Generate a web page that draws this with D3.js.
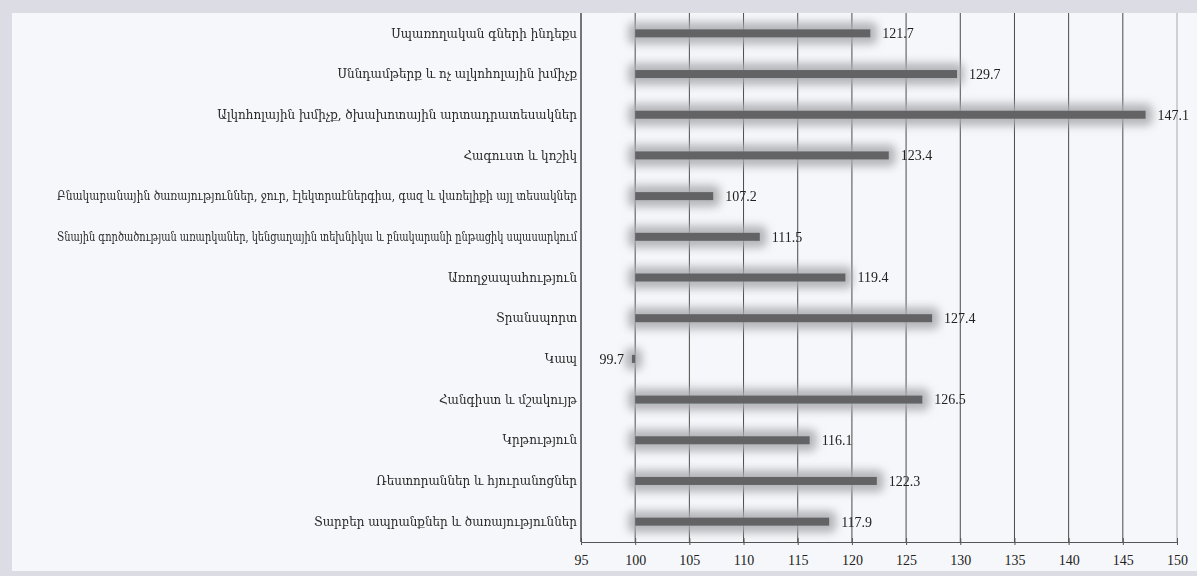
<!DOCTYPE html>
<html><head><meta charset="utf-8">
<script src="https://cdn.jsdelivr.net/npm/d3@7"></script>
<style>
html,body{margin:0;padding:0;background:#dfe0e6;}
svg{display:block;}
</style></head>
<body><svg id="c" width="1197" height="576"></svg>
<script>
const categories = [
  "Սպառողական գների ինդեքս",
  "Սննդամթերք և ոչ ալկոհոլային խմիչք",
  "Ալկոհոլային խմիչք, ծխախոտային արտադրատեսակներ",
  "Հագուստ և կոշիկ",
  "Բնակարանային ծառայություններ, ջուր, էլեկտրաէներգիա, գազ և վառելիքի այլ տեսակներ",
  "Տնային գործածության առարկաներ, կենցաղային տեխնիկա և բնակարանի ընթացիկ սպասարկում",
  "Առողջապահություն",
  "Տրանսպորտ",
  "Կապ",
  "Հանգիստ և մշակույթ",
  "Կրթություն",
  "Ռեստորաններ և հյուրանոցներ",
  "Տարբեր ապրանքներ և ծառայություններ"
];
const values = [121.7, 129.7, 147.1, 123.4, 107.2, 111.5, 119.4, 127.4, 99.7, 126.5, 116.1, 122.3, 117.9];
const tickValues = [95, 100, 105, 110, 115, 120, 125, 130, 135, 140, 145, 150];
const baseValue = 100;

(function(){
const svg = d3.select("#c");
const W = 1197, H = 576;
const pL = 581, pR = 1177, pT = 13, pB = 542;

svg.append("rect").attr("width", W).attr("height", H).attr("fill", "#dcdde4");
svg.append("rect").attr("x", 12).attr("y", 13).attr("width", W - 12).attr("height", 558).attr("fill", "#f6f7fa");

const defs = svg.append("defs");
defs.append("filter").attr("id", "soft").attr("filterUnits", "userSpaceOnUse")
  .attr("x", 0).attr("y", 0).attr("width", W).attr("height", H)
  .append("feGaussianBlur").attr("stdDeviation", 4);

const x = d3.scaleLinear().domain([95, 150]).range([pL, pR]);
const yc = d3.scaleBand().domain(categories).range([pT, pB]);

svg.append("g").selectAll("line").data(tickValues).join("line")
  .attr("x1", d => x(d)).attr("x2", d => x(d))
  .attr("y1", pT).attr("y2", pB)
  .attr("stroke", d => d === 150 ? "#a8a8ac" : "#4a4a4a")
  .attr("stroke-width", 1);

const xAxis = d3.axisBottom(x).tickValues(tickValues).tickSize(6).tickSizeOuter(0).tickFormat(d3.format("d"));
const ax = svg.append("g").attr("transform", `translate(0,${pB})`).call(xAxis);
ax.select(".domain").attr("stroke", "#555").attr("stroke-width", 1.2);
ax.selectAll(".tick line").attr("stroke", "#555").attr("y1", -4).attr("y2", 3);
ax.selectAll(".tick text").attr("font-family", "'Liberation Serif', 'Times New Roman', serif")
  .attr("font-size", 14).attr("fill", "#222").attr("y", 10).attr("dy", "0.95em");

const barH = 8, halo = 7;
// soft halos
svg.append("g").attr("filter", "url(#soft)").selectAll("rect").data(values).join("rect")
  .attr("x", d => Math.min(x(baseValue), x(d)) - halo)
  .attr("width", d => Math.max(2, Math.abs(x(d) - x(baseValue))) + 2 * halo)
  .attr("y", (d, i) => yc(categories[i]) + yc.bandwidth() / 2 - barH / 2 - halo)
  .attr("height", barH + 2 * halo)
  .attr("rx", 6)
  .attr("fill", "#a9aaae").attr("opacity", 0.85);

svg.append("g").selectAll("rect").data(values).join("rect")
  .attr("x", d => Math.min(x(baseValue), x(d)))
  .attr("width", d => Math.max(2, Math.abs(x(d) - x(baseValue))))
  .attr("y", (d, i) => yc(categories[i]) + yc.bandwidth() / 2 - barH / 2)
  .attr("height", barH)
  .attr("fill", "#636366");

svg.append("g").selectAll("text").data(values).join("text")
  .attr("x", d => d >= baseValue ? x(d) + 12 : x(d) - 8)
  .attr("y", (d, i) => yc(categories[i]) + yc.bandwidth() / 2)
  .attr("dy", "0.35em")
  .attr("text-anchor", d => d >= baseValue ? "start" : "end")
  .attr("font-family", "'Liberation Serif', 'Times New Roman', serif")
  .attr("font-size", 14).attr("fill", "#222")
  .text(d => d.toFixed(1));

const cl = svg.append("g").selectAll("text").data(categories).join("text")
  .attr("x", pL - 4)
  .attr("y", d => yc(d) + yc.bandwidth() / 2)
  .attr("dy", "0.35em")
  .attr("text-anchor", "end")
  .attr("font-family", "'DejaVu Serif', 'DejaVu Sans', serif")
  .attr("font-size", 12).attr("fill", "#2a2a2a")
  .text(d => d);
const refNode = cl.filter((d, i) => i === 0).node();
const w0 = refNode.getComputedTextLength();
const fs = w0 > 0 ? 12 * 186 / w0 : 13;
cl.attr("font-size", fs);
const maxAllowed = 520;
cl.each(function(){
  const w = this.getComputedTextLength();
  if (w > maxAllowed) d3.select(this).attr("textLength", maxAllowed).attr("lengthAdjust", "spacingAndGlyphs");
});

svg.append("line").attr("x1", pL).attr("x2", pL).attr("y1", pT).attr("y2", pB)
  .attr("stroke", "#4a4a4a").attr("stroke-width", 1);
})();
</script></body></html>
